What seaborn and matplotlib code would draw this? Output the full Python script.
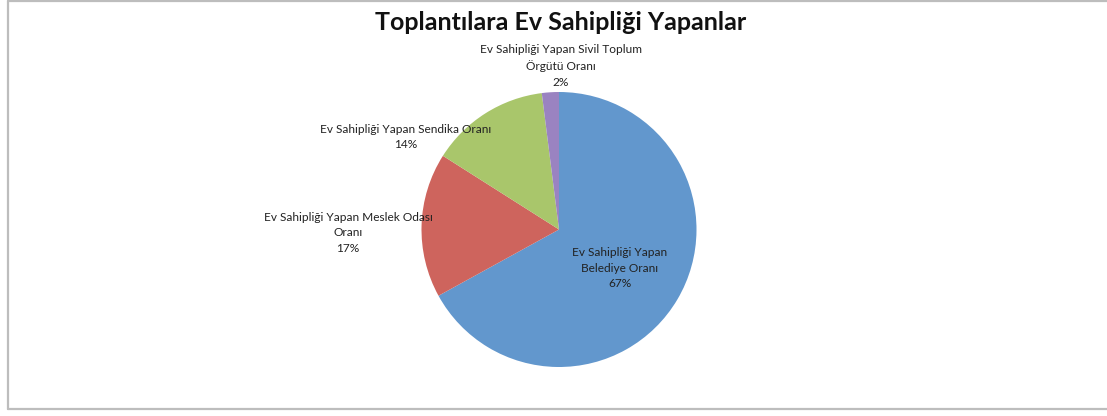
import matplotlib
matplotlib.use("Agg")
import matplotlib.pyplot as plt
import seaborn as sns
from matplotlib.lines import Line2D

# --- data ---
categories = [
    "Ev Sahipliği Yapan\nBelediye Oranı",
    "Ev Sahipliği Yapan Meslek Odası\nOranı",
    "Ev Sahipliği Yapan Sendika Oranı",
    "Ev Sahipliği Yapan Sivil Toplum\nÖrgütü Oranı",
]
values = [67, 17, 14, 2]
title = "Toplantılara Ev Sahipliği Yapanlar"

colors = ["#6297cd", "#ce645d", "#a9c66b", "#9a83c1"]

sns.set_theme(style="white")
plt.rcParams["font.family"] = ["Lato", "DejaVu Sans"]

W, H = 1107, 416
fig = plt.figure(figsize=(W / 100, H / 100), dpi=100)

# pie placed by pixel center / radius
cx, cy, r = 559, 229.5, 137.5
ax = fig.add_axes([(cx - r) / W, (H - cy - r) / H, 2 * r / W, 2 * r / H])
ax.pie(values, colors=colors, startangle=90, counterclock=False,
       wedgeprops=dict(linewidth=0))
ax.set_xlim(-1, 1)
ax.set_ylim(-1, 1)
ax.set_aspect("equal")
ax.axis("off")

# label centres in pixels (x, y of middle of text block)
label_pos = [(620, 268), (348, 233), (406, 137), (561, 66)]
for cat, v, (x, y) in zip(categories, values, label_pos):
    fig.text(x / W, 1 - y / H, f"{cat}\n{v}%", ha="center", va="center",
             fontsize=8.6, color="#222222", linespacing=1.55)

fig.text(561 / W, 1 - 22 / H, title, ha="center", va="center",
         fontsize=18, fontweight="bold", color="#111111")

# chart frame (left, top, bottom)
frame_kw = dict(color="#bdbdbd", linewidth=1.6, transform=fig.transFigure)
fig.add_artist(Line2D([7.5 / W, 7.5 / W], [1 - 1 / H, 1 - 409 / H], **frame_kw))
fig.add_artist(Line2D([7.5 / W, 1], [1 - 1 / H, 1 - 1 / H], **frame_kw))
fig.add_artist(Line2D([7.5 / W, 1], [1 - 409 / H, 1 - 409 / H], **frame_kw))

fig.savefig("out.png", dpi=100)
